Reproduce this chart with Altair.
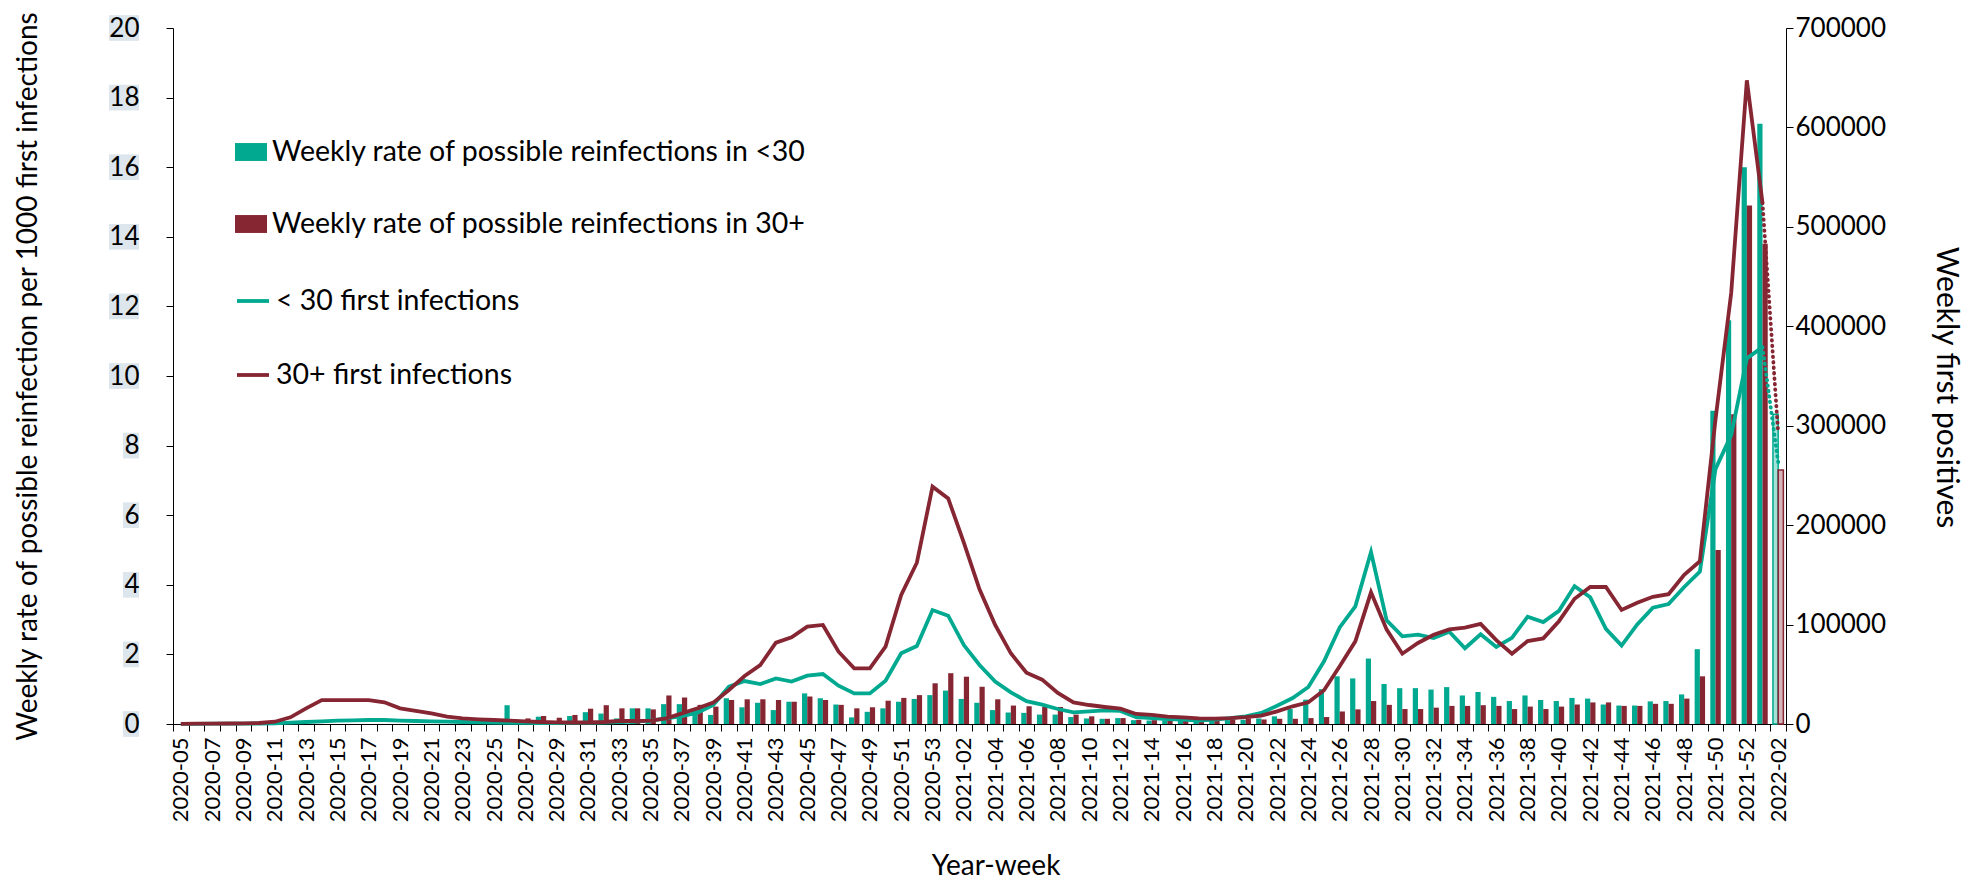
import altair as alt
import pandas as pd

# ---------------- data ----------------
weeks = ([f"2020-{w:02d}" for w in range(5, 54)]
         + [f"2021-{w:02d}" for w in range(1, 53)]
         + ["2022-01", "2022-02"])
labelled_weeks = weeks[::2]

BAR_SERIES = ["Weekly rate of possible reinfections in <30",
              "Weekly rate of possible reinfections in 30+"]
LINE_SERIES = ["< 30 first infections", "30+ first infections"]

rate_lt30 = [
    0, 0, 0, 0, 0, 0, 0, 0, 0, 0,
    0, 0, 0, 0, 0, 0, 0, 0, 0, 0,
    0, 0.54, 0.03, 0.21, 0.08, 0.23, 0.34, 0.30, 0.16, 0.45,
    0.45, 0.57, 0.57, 0.45, 0.26, 0.74, 0.48, 0.61, 0.40, 0.64,
    0.88, 0.74, 0.56, 0.19, 0.35, 0.45, 0.64, 0.72, 0.83, 0.96,
    0.72, 0.61, 0.40, 0.33, 0.32, 0.27, 0.27, 0.20, 0.16, 0.15,
    0.17, 0.11, 0.10, 0.10, 0.10, 0.08, 0.10, 0.11, 0.12, 0.16,
    0.22, 0.43, 0.70, 1.00, 1.37, 1.31, 1.88, 1.15, 1.03, 1.03,
    0.99, 1.06, 0.82, 0.92, 0.78, 0.66, 0.82, 0.69, 0.66, 0.75,
    0.73, 0.56, 0.53, 0.53, 0.65, 0.66, 0.85, 2.15, 9.0, 11.6,
    16.0, 17.25, 8.9]

rate_30p = [
    0, 0, 0, 0, 0, 0, 0, 0, 0, 0,
    0, 0, 0, 0, 0, 0, 0, 0, 0, 0,
    0, 0, 0.16, 0.23, 0.18, 0.26, 0.44, 0.54, 0.45, 0.45,
    0.42, 0.82, 0.76, 0.55, 0.50, 0.69, 0.71, 0.71, 0.69, 0.64,
    0.79, 0.69, 0.55, 0.45, 0.48, 0.67, 0.75, 0.83, 1.17, 1.46,
    1.36, 1.07, 0.71, 0.53, 0.51, 0.49, 0.49, 0.27, 0.22, 0.15,
    0.17, 0.12, 0.11, 0.10, 0.09, 0.07, 0.10, 0.13, 0.16, 0.13,
    0.15, 0.15, 0.17, 0.20, 0.36, 0.42, 0.66, 0.55, 0.43, 0.43,
    0.47, 0.52, 0.52, 0.54, 0.52, 0.43, 0.50, 0.43, 0.50, 0.56,
    0.62, 0.62, 0.52, 0.52, 0.58, 0.58, 0.73, 1.37, 5.0, 8.9,
    14.9, 13.8, 7.3]

first_lt30 = [
    200, 200, 300, 300, 400, 500, 700, 1300, 2000, 2700,
    3400, 3700, 4000, 4000, 3400, 3000, 2700, 2300, 2000, 1700,
    1400, 1200, 1100, 1000, 1000, 1100, 1200, 1400, 2000, 2400,
    3400, 5700, 8000, 11400, 19100, 37500, 43200, 40200, 45900, 42600,
    48600, 50300, 38500, 30800, 30800, 43600, 71100, 78400, 114600, 108900,
    79400, 59300, 42600, 31800, 23000, 19400, 15100, 11700, 12700, 13700,
    13100, 7000, 6000, 5000, 4400, 3400, 4400, 6000, 7700, 11100,
    18400, 26100, 37200, 63000, 97200, 118300, 173000, 104200, 88200, 89800,
    86500, 92800, 76200, 90200, 77500, 86600, 107900, 102500, 113800, 138700,
    127400, 95700, 78900, 100200, 117000, 120600, 137800, 153200, 256600, 290600,
    367700, 379000, 263400]

first_30p = [
    200, 300, 400, 500, 700, 1000, 2300, 6700, 15700, 24100,
    24100, 24100, 24100, 21800, 15700, 13100, 10700, 7400, 5700, 4700,
    4000, 3400, 2700, 2000, 1700, 1500, 1500, 2000, 3000, 3000,
    3400, 5700, 10700, 15800, 21500, 34200, 48300, 59300, 81800, 87200,
    97900, 99600, 72700, 56000, 56000, 77800, 129700, 162200, 238700, 226900,
    182300, 135400, 99600, 71100, 51500, 44600, 31200, 21800, 19100, 17100,
    15400, 10100, 9100, 7400, 6700, 5700, 5400, 6000, 7000, 8400,
    12700, 17800, 21800, 33900, 58000, 83100, 132400, 94900, 70700, 81500,
    89800, 95200, 97000, 100700, 84300, 70700, 83400, 86100, 103400, 126000,
    137800, 137800, 114700, 122000, 127900, 130600, 150100, 163700, 306500, 433500,
    647400, 524100, 292900]

left_ticks = list(range(0, 21, 2))
right_ticks = list(range(0, 700001, 100000))

# ---------------- styling ----------------
GREEN = "#00A98F"
MAROON = "#862633"
BOX = "#DCE6EC"
FONT = "Lato"
W, H = 1613, 696
LW = 3.8

n = len(weeks)
last = weeks[-1]

bar_df = pd.DataFrame({
    "week": weeks + weeks,
    "series": [BAR_SERIES[0]] * n + [BAR_SERIES[1]] * n,
    "rate": rate_lt30 + rate_30p,
})
bar_df["provisional"] = bar_df["week"] == last

line_df = pd.DataFrame({
    "week": weeks + weeks,
    "series": [LINE_SERIES[0]] * n + [LINE_SERIES[1]] * n,
    "count": first_lt30 + first_30p,
})
solid_df = line_df[line_df["week"] != last]
dotted_df = line_df[line_df["week"].isin(weeks[-2:])]
box_df = pd.DataFrame({"rate": left_ticks})

label_list = ",".join(f"'{w}'" for w in labelled_weeks)
x_axis = alt.Axis(
    title="Year-week", labelAngle=270, labelAlign="right", labelBaseline="middle",
    labelExpr=f"indexof([{label_list}], datum.value) >= 0 ? datum.value : ''",
    tickBand="extent", tickSize=7, tickColor="black", domainColor="black",
    labelPadding=6, titlePadding=31, labelOverlap=False,
    labelFontSize=22, titleFontSize=28, grid=False, titleX=W / 2 + 16,
)
x_scale = alt.Scale(type="band", domain=weeks, paddingInner=0, paddingOuter=0)
x_enc = alt.X("week:N", scale=x_scale, axis=x_axis)

left_scale = alt.Scale(domain=[0, 20], nice=False)
left_axis = alt.Axis(
    title="Weekly rate of possible reinfection per 1000 first infections",
    orient="left", values=left_ticks, tickSize=7, labelPadding=27, titlePadding=66,
    grid=False, domainColor="black", tickColor="black",
    labelFontSize=26, titleFontSize=28, zindex=1,
)
right_axis = alt.Axis(
    title="Weekly first positives", orient="right", values=right_ticks, format="d",
    tickSize=7, labelPadding=2, titlePadding=45, grid=False, titleY=H / 2 + 11,
    domainColor="black", tickColor="black", labelFontSize=26, titleFontSize=30,
)

RECT = "M-1,-0.56L1,-0.56L1,0.56L-1,0.56Z"
bar_legend = alt.Legend(
    title=None, orient="none", legendX=62, legendY=108, direction="vertical",
    symbolType=RECT, symbolSize=1024, symbolStrokeWidth=0, symbolOpacity=1,
    labelFontSize=28.5, labelFont=FONT, labelColor="black", rowPadding=41,
    labelOffset=5, padding=0, labelLimit=1000,
)
line_legend = alt.Legend(
    title=None, orient="none", legendX=62, legendY=255, direction="vertical",
    symbolType="stroke", symbolSize=1024, symbolStrokeWidth=LW,
    labelFontSize=28.5, labelFont=FONT, labelColor="black", rowPadding=41,
    labelOffset=5, padding=0, labelLimit=1000,
)

WIDE = "M-1,-0.857L1,-0.857L1,0.857L-1,0.857Z"
NARROW = "M-0.071,-0.857L1,-0.857L1,0.857L-0.071,0.857Z"

bars = alt.Chart(bar_df).mark_bar().encode(
    x=x_enc,
    xOffset=alt.XOffset("series:N", scale=alt.Scale(domain=BAR_SERIES, paddingOuter=0.5, paddingInner=0)),
    y=alt.Y("rate:Q", scale=left_scale, axis=left_axis),
    fill=alt.Fill("series:N", scale=alt.Scale(domain=BAR_SERIES, range=[GREEN, MAROON]), legend=bar_legend),
    fillOpacity=alt.condition("datum.provisional", alt.value(0.35), alt.value(1.0)),
    stroke=alt.condition(f"datum.series == '{BAR_SERIES[0]}'", alt.value(GREEN), alt.value(MAROON)),
    strokeWidth=alt.condition("datum.provisional", alt.value(1.5), alt.value(0.0)),
)

# light highlight boxes behind the left tick labels
boxes = alt.Chart(box_df).mark_point(
    filled=True, opacity=1, size=900, fill=BOX, strokeWidth=0
).encode(
    x=alt.value(-49),
    y=alt.Y("rate:Q", scale=left_scale, axis=left_axis),
    shape=alt.condition("datum.rate >= 10", alt.value(WIDE), alt.value(NARROW)),
)

right_scale = alt.Scale(domain=[0, 700000], nice=False)
line_color = alt.Scale(domain=LINE_SERIES, range=[GREEN, MAROON])

solid = alt.Chart(solid_df).mark_line(strokeWidth=LW).encode(
    x=x_enc,
    y=alt.Y("count:Q", scale=right_scale, axis=right_axis),
    stroke=alt.Stroke("series:N", scale=line_color, legend=line_legend),
)
dotted = alt.Chart(dotted_df).mark_line(strokeWidth=LW, strokeDash=[0.5, 5], strokeCap="round").encode(
    x=x_enc,
    y=alt.Y("count:Q", scale=right_scale, axis=right_axis),
    stroke=alt.Stroke("series:N", scale=line_color, legend=None),
)

chart = alt.layer(
    alt.layer(boxes, bars),
    alt.layer(solid, dotted),
).resolve_scale(y="independent").properties(
    width=W, height=H,
    padding={"left": 6, "right": 5, "top": 2, "bottom": 0},
).configure(font=FONT).configure_view(stroke=None).configure_axis(
    labelColor="black", titleColor="black", labelFont=FONT, titleFont=FONT,
    titleFontWeight="normal",
)

chart.save("out.html", embed_options={"renderer": "svg", "actions": False})
